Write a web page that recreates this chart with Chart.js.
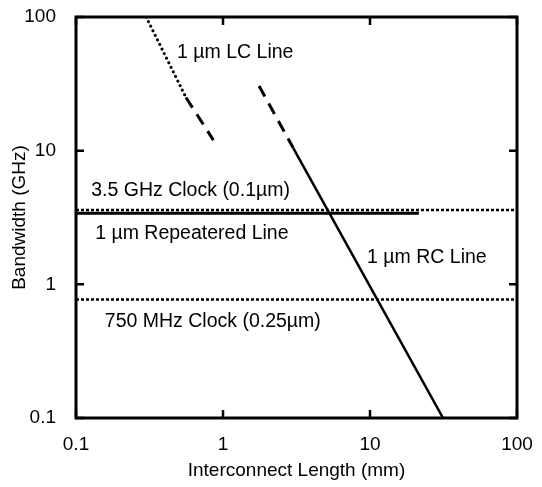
<!DOCTYPE html>
<html>
<head>
<meta charset="utf-8">
<script src="https://cdn.jsdelivr.net/npm/chart.js@4.4.1/dist/chart.umd.min.js"></script>
<style>
  html, body { margin: 0; padding: 0; background: #fff; }
  #wrap { width: 542px; height: 487px; }
</style>
</head>
<body>
<div id="wrap"><canvas id="chart" width="542" height="487"></canvas></div>
<script>
// ===== DATA =====
const decadeTicks = [0.1, 1, 10, 100];

// 1 um LC line: dotted part, then dashed part
const lcDotX = [0.30, 0.56];
const lcDotY = [100, 25];
const lcDashX = [0.56, 0.86];
const lcDashY = [25, 12];

// 1 um RC line: dashed head, then solid
const rcDashX = [1.76, 3.0];
const rcDashY = [30.5, 10.5];
const rcSolidX = [3.0, 31.4];
const rcSolidY = [10.5, 0.1];

// clocks (horizontal dotted lines across the whole range)
const clockFastX = [0.1, 100];
const clockFastY = [3.6, 3.6];
const clockSlowX = [0.1, 100];
const clockSlowY = [0.77, 0.77];

// 1 um repeatered line
const repX = [0.1, 21.5];
const repY = [3.4, 3.4];

// text labels, anchored (left, middle) in data units
const labelText = ['1 µm LC Line', '3.5 GHz Clock (0.1µm)', '1 µm Repeatered Line', '1 µm RC Line', '750 MHz Clock (0.25µm)'];
const labelX = [0.487, 0.127, 0.135, 9.55, 0.157];
const labelY = [53.8, 5.0, 2.38, 1.575, 0.523];

const pts = (xs, ys) => xs.map((x, i) => ({ x, y: ys[i] }));

const FONT = 'Liberation Sans, Arial, sans-serif';

// frame, inward ticks and text labels
const decorPlugin = {
  id: 'decor',
  afterDraw(chart) {
    const { ctx, chartArea: a, scales } = chart;
    const xs = scales.x, ys = scales.y;
    ctx.save();
    ctx.strokeStyle = '#000';
    ctx.lineWidth = 3;
    ctx.strokeRect(a.left, a.top, a.right - a.left, a.bottom - a.top);
    ctx.lineWidth = 2.5;
    const tl = 8;
    decadeTicks.forEach(v => {
      const px = xs.getPixelForValue(v);
      ctx.beginPath();
      ctx.moveTo(px, a.bottom); ctx.lineTo(px, a.bottom - tl);
      ctx.moveTo(px, a.top); ctx.lineTo(px, a.top + tl);
      const py = ys.getPixelForValue(v);
      ctx.moveTo(a.left, py); ctx.lineTo(a.left + tl, py);
      ctx.moveTo(a.right, py); ctx.lineTo(a.right - tl, py);
      ctx.stroke();
    });
    ctx.fillStyle = '#000';
    ctx.font = '19.5px ' + FONT;
    ctx.textAlign = 'left';
    ctx.textBaseline = 'middle';
    labelText.forEach((t, i) => {
      ctx.fillText(t, xs.getPixelForValue(labelX[i]), ys.getPixelForValue(labelY[i]));
    });
    ctx.restore();
  }
};

const line = (data, dash, width, cap) => ({
  data,
  borderColor: '#000',
  borderWidth: width,
  borderDash: dash,
  borderCapStyle: cap || 'butt',
  pointRadius: 0,
  showLine: true,
  fill: false
});

new Chart(document.getElementById('chart'), {
  type: 'scatter',
  data: {
    datasets: [
      line(pts(lcDotX, lcDotY), [0.1, 5], 3, 'round'),
      line(pts(lcDashX, lcDashY), [12, 8], 3),
      line(pts(rcDashX, rcDashY), [12, 8], 3),
      line(pts(rcSolidX, rcSolidY), [], 2.5),
      line(pts(clockFastX, clockFastY), [3, 2], 2.5),
      line(pts(clockSlowX, clockSlowY), [3, 2], 2.5),
      line(pts(repX, repY), [], 3)
    ]
  },
  options: {
    responsive: false,
    animation: false,
    layout: { padding: { top: 17, right: 25, left: 0, bottom: 0 } },
    plugins: { legend: { display: false }, tooltip: { enabled: false } },
    scales: {
      x: {
        type: 'logarithmic',
        min: 0.1, max: 100,
        afterBuildTicks: s => { s.ticks = decadeTicks.map(v => ({ value: v })); },
        afterFit: s => { s.height = 69; s.paddingLeft = 0; s.paddingRight = 0; },
        grid: { display: false },
        border: { display: false },
        ticks: {
          color: '#000',
          font: { family: FONT, size: 19 },
          padding: 7,
          maxRotation: 0,
          autoSkip: false,
          callback: v => String(v)
        },
        title: {
          display: true,
          text: 'Interconnect Length (mm)',
          color: '#000',
          font: { family: FONT, size: 19 },
          padding: { top: 0, bottom: 5 }
        }
      },
      y: {
        type: 'logarithmic',
        min: 0.1, max: 100,
        afterBuildTicks: s => { s.ticks = decadeTicks.map(v => ({ value: v })); },
        afterFit: s => { s.width = 76; s.paddingTop = 0; s.paddingBottom = 0; },
        grid: { display: false },
        border: { display: false },
        ticks: {
          color: '#000',
          font: { family: FONT, size: 19 },
          padding: 12,
          autoSkip: false,
          callback: v => String(v)
        },
        title: {
          display: true,
          text: 'Bandwidth (GHz)',
          color: '#000',
          font: { family: FONT, size: 19 },
          padding: { top: 8, bottom: 0 }
        }
      }
    }
  },
  plugins: [decorPlugin]
});
</script>
</body>
</html>
